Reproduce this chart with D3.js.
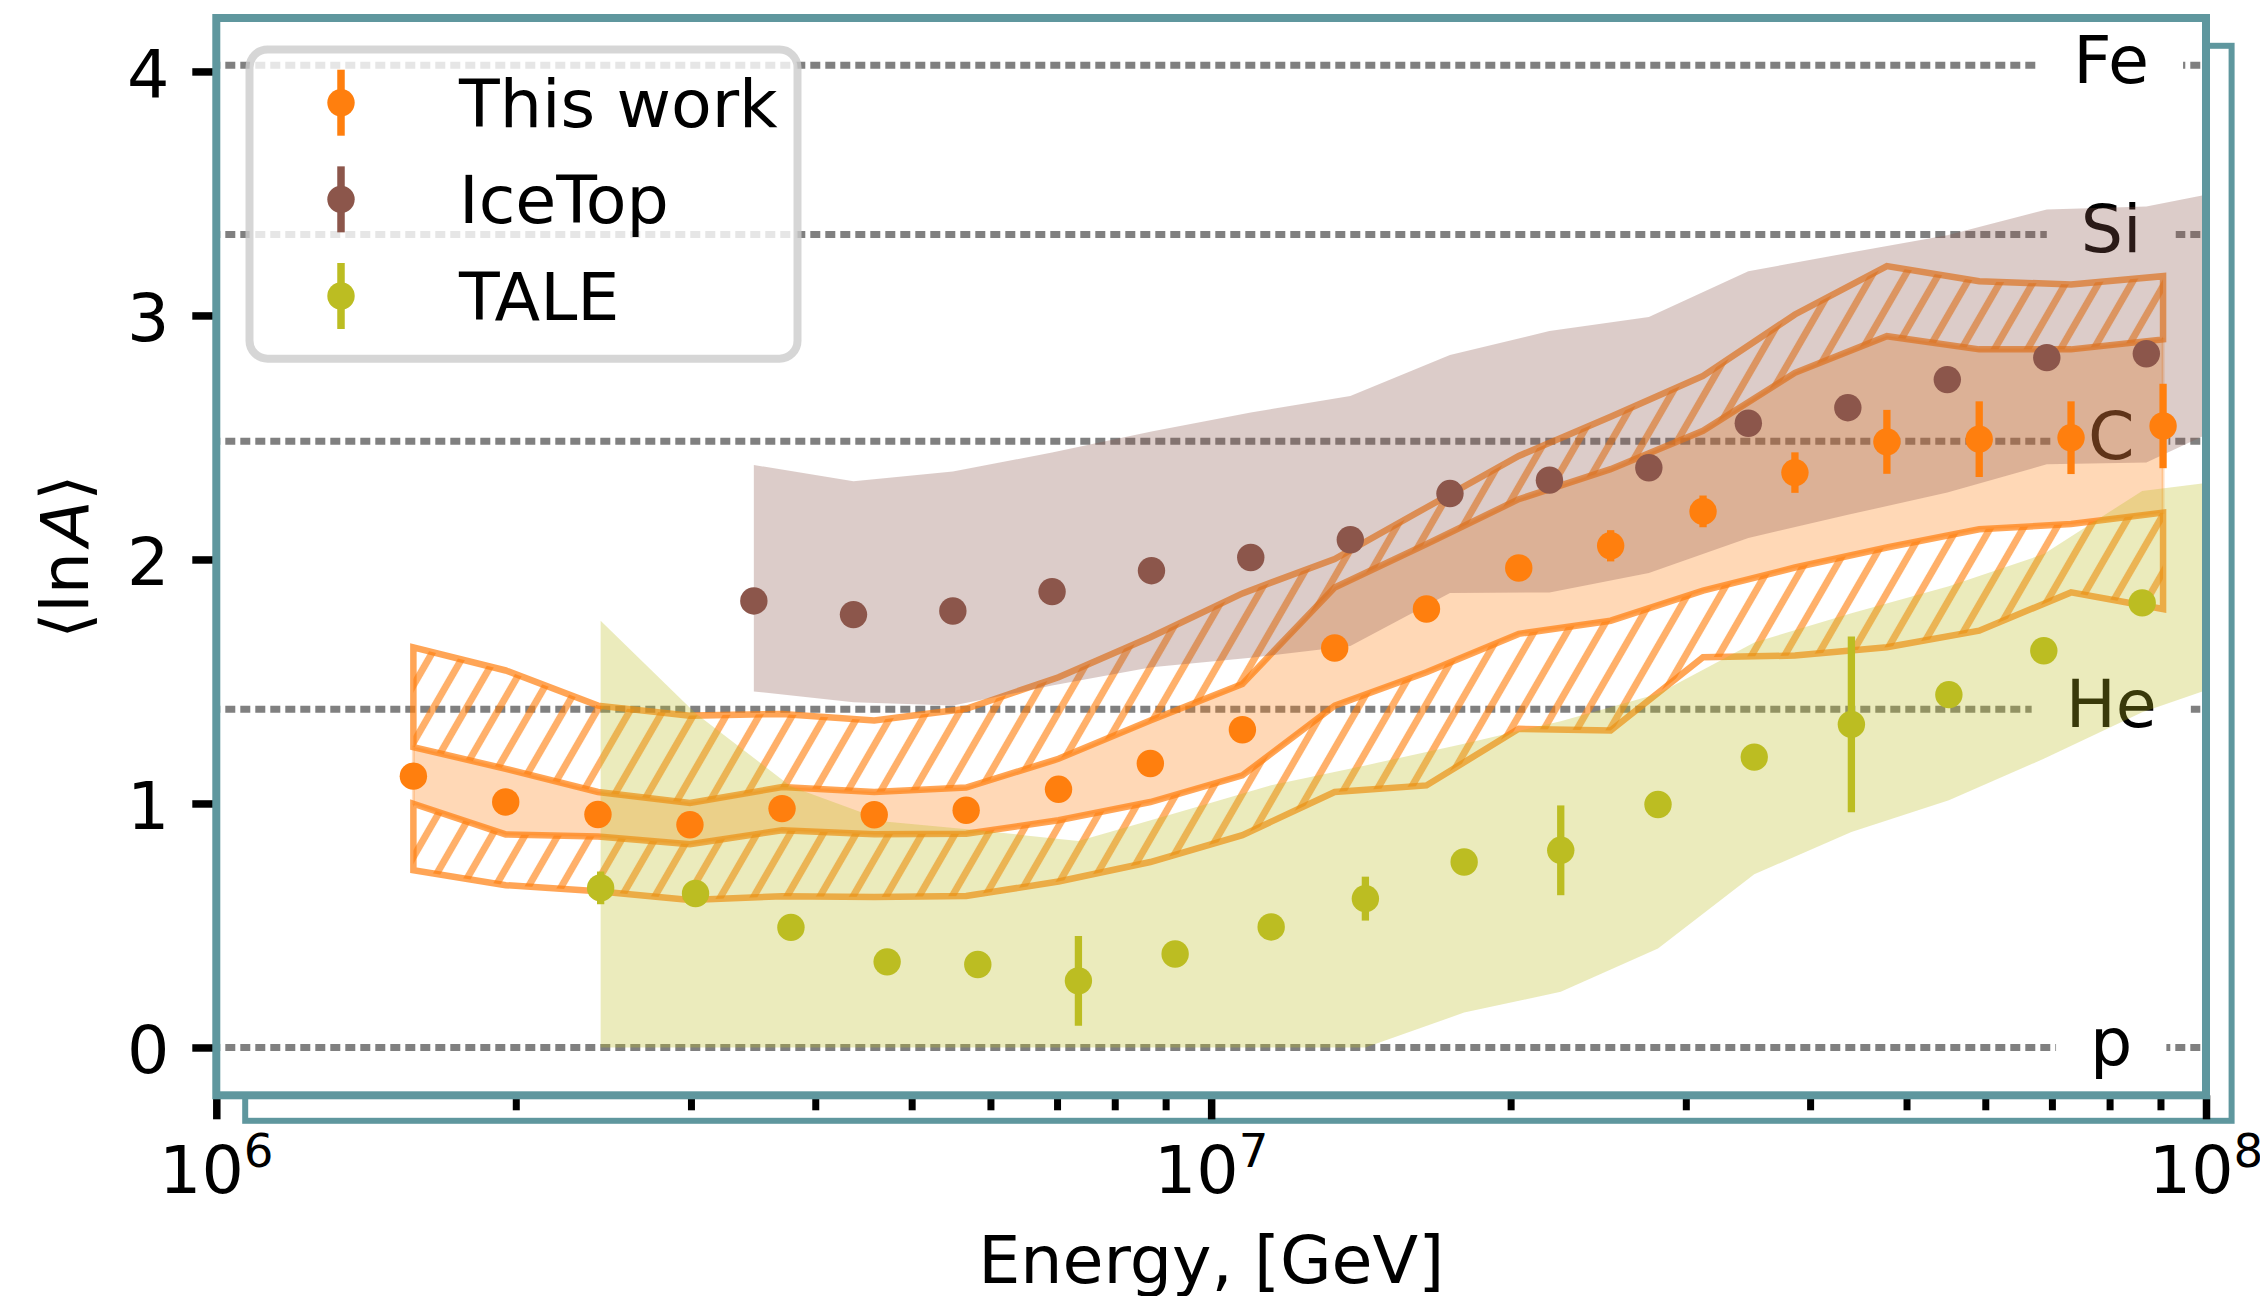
<!DOCTYPE html>
<html>
<head>
<meta charset="utf-8">
<script src="https://cdn.jsdelivr.net/npm/d3@7"></script>
<style>
  html, body { margin: 0; padding: 0; background: #ffffff; }
  svg { display: block; font-family: "DejaVu Sans", sans-serif; }
</style>
</head>
<body>
<svg id="chart" width="2260" height="1296"></svg>
<script>
// Mean logarithmic mass <lnA> versus primary energy

// ---- This work ----
const thisWorkE = [1.578e6, 1.954e6, 2.419e6, 2.993e6, 3.704e6, 4.585e6, 5.672e6, 7.024e6, 8.687e6, 1.075e7,
                   1.331e7, 1.646e7, 2.038e7, 2.521e7, 3.122e7, 3.862e7, 4.778e7, 5.916e7, 7.317e7, 9.054e7];
const thisWorkLnA = [1.112, 1.006, 0.955, 0.913, 0.979, 0.954, 0.972, 1.058, 1.164, 1.302,
                     1.637, 1.797, 1.965, 2.056, 2.197, 2.356, 2.482, 2.493, 2.499, 2.547];
const thisWorkErr = [0.02, 0.02, 0.02, 0.02, 0.02, 0.02, 0.02, 0.02, 0.03, 0.03,
                     0.03, 0.04, 0.045, 0.064, 0.065, 0.083, 0.131, 0.155, 0.149, 0.173];
// systematic envelopes
const thisWorkUpperOuter = [1.640, 1.545, 1.401, 1.360, 1.367, 1.340, 1.388, 1.517, 1.681, 1.861,
                            2.002, 2.213, 2.424, 2.585, 2.752, 3.004, 3.202, 3.140, 3.127, 3.161];
const thisWorkUpperInner = [1.231, 1.142, 1.047, 1.002, 1.067, 1.047, 1.065, 1.183, 1.340, 1.490,
                            1.885, 2.063, 2.247, 2.370, 2.527, 2.765, 2.915, 2.861, 2.861, 2.902];
const thisWorkLowerInner = [0.999, 0.873, 0.865, 0.833, 0.890, 0.874, 0.876, 0.931, 1.006, 1.115,
                            1.401, 1.538, 1.695, 1.749, 1.872, 1.967, 2.049, 2.124, 2.145, 2.192];
const thisWorkLowerOuter = [0.726, 0.665, 0.640, 0.604, 0.620, 0.617, 0.621, 0.680, 0.760, 0.870,
                            1.047, 1.074, 1.306, 1.299, 1.599, 1.606, 1.640, 1.708, 1.865, 1.797];

// ---- IceTop ----
const iceTopE = [3.47e6, 4.37e6, 5.50e6, 6.92e6, 8.71e6, 1.096e7, 1.380e7, 1.738e7, 2.188e7, 2.754e7,
                 3.467e7, 4.365e7, 5.495e7, 6.918e7, 8.710e7];
const iceTopLnA = [1.830, 1.774, 1.789, 1.868, 1.954, 2.008, 2.081, 2.270, 2.325, 2.376,
                   2.558, 2.622, 2.737, 2.827, 2.843];
const iceTopErr = [0.02, 0.02, 0.02, 0.02, 0.02, 0.02, 0.02, 0.02, 0.02, 0.02,
                   0.03, 0.03, 0.03, 0.03, 0.03];
const iceTopBandE = [3.47e6, 4.37e6, 5.50e6, 6.92e6, 8.71e6, 1.096e7, 1.380e7, 1.738e7, 2.188e7, 2.754e7,
                     3.467e7, 4.365e7, 5.495e7, 6.918e7, 8.710e7, 1.096e8];
const iceTopBandHi = [2.387, 2.321, 2.360, 2.438, 2.524, 2.602, 2.670, 2.838, 2.936, 2.994,
                      3.181, 3.256, 3.329, 3.434, 3.447, 3.527];
const iceTopBandLo = [1.459, 1.415, 1.401, 1.483, 1.558, 1.597, 1.645, 1.863, 1.865, 1.944,
                      2.088, 2.183, 2.274, 2.390, 2.397, 2.587];

// ---- TALE ----
const taleE = [2.434e6, 3.032e6, 3.781e6, 4.724e6, 5.827e6, 7.355e6, 9.200e6, 1.149e7, 1.429e7,
               1.796e7, 2.246e7, 2.813e7, 3.515e7, 4.401e7, 5.515e7, 6.870e7, 8.627e7];
const taleLnA = [0.654, 0.631, 0.492, 0.351, 0.340, 0.273, 0.383, 0.494, 0.610,
                 0.760, 0.808, 0.996, 1.190, 1.324, 1.446, 1.626, 1.822];
const taleErr = [0.067, 0.03, 0.03, 0.03, 0.03, 0.184, 0.03, 0.03, 0.09,
                 0.03, 0.184, 0.03, 0.03, 0.36, 0.03, 0.03, 0.03];
const taleBandE = [2.434e6, 3.032e6, 3.781e6, 4.724e6, 5.827e6, 7.355e6, 9.200e6, 1.149e7, 1.429e7,
                   1.796e7, 2.246e7, 2.813e7, 3.515e7, 4.401e7, 5.515e7, 6.870e7, 8.627e7, 1.078e8];
const taleBandHi = [1.749, 1.370, 1.070, 0.925, 0.890, 0.846, 0.960, 1.075, 1.156,
                    1.245, 1.337, 1.450, 1.660, 1.780, 1.890, 2.022, 2.281, 2.330];
const taleBandLo = [0, 0, 0, 0, 0, 0, 0, 0, 0,
                    0.143, 0.228, 0.406, 0.710, 0.883, 1.013, 1.183, 1.374, 1.510];

// ---- reference nuclei ----
const massLabels = ["p", "He", "C", "Si", "Fe"];
const massNumbers = [1, 4, 12, 28, 56];

// ---- axes ----
const yTicks = [0, 1, 2, 3, 4];
const xMajorTicks = [1e6, 1e7, 1e8];
const xMajorExponents = ["6", "7", "8"];
const xMinorTicks = [2e6, 3e6, 4e6, 5e6, 6e6, 7e6, 8e6, 9e6, 2e7, 3e7, 4e7, 5e7, 6e7, 7e7, 8e7, 9e7];
const legendLabels = ["This work", "IceTop", "TALE"];

// ================= drawing =================
const FONT = '"DejaVu Sans", sans-serif';
const FS = 66.67;
const TEAL = "#5f979e";
const ORANGE = "#ff7f0e", BROWN = "#8c564b", OLIVE = "#bcbd22";
const P = { left: 216.3, right: 2206, top: 18, bottom: 1095.3 };

const svg = d3.select("#chart");
const x = d3.scaleLog().domain([1e6, 1e8]).range([P.left, P.right]);
const y = d3.scaleLinear().domain([-0.196, 4.219]).range([P.bottom, P.top]);

const defs = svg.append("defs");
defs.append("clipPath").attr("id", "plotClip")
  .append("rect").attr("x", P.left).attr("y", P.top)
  .attr("width", P.right - P.left).attr("height", P.bottom - P.top);

const hatch = defs.append("pattern").attr("id", "hatch")
  .attr("patternUnits", "userSpaceOnUse")
  .attr("width", 28.6).attr("height", 400)
  .attr("patternTransform", "rotate(30)");
hatch.append("line").attr("x1", 14.3).attr("x2", 14.3).attr("y1", 0).attr("y2", 400)
  .attr("stroke", ORANGE).attr("stroke-width", 7).attr("stroke-opacity", 0.62);

// offset frame behind the axes
svg.append("rect")
  .attr("x", 245.2).attr("y", 45.8)
  .attr("width", 2231.6 - 245.2).attr("height", 1120.8 - 45.8)
  .attr("fill", "none").attr("stroke", TEAL).attr("stroke-width", 6);

// axes background
svg.append("rect")
  .attr("x", P.left).attr("y", P.top)
  .attr("width", P.right - P.left).attr("height", P.bottom - P.top)
  .attr("fill", "#ffffff");

// ---- ticks ----
const gy = svg.append("g").attr("transform", `translate(${P.left},0)`)
  .call(d3.axisLeft(y).tickValues(yTicks).tickSize(24).tickPadding(23).tickFormat(d3.format("d")));
gy.attr("font-size", FS).attr("font-family", FONT);
gy.select(".domain").remove();
gy.selectAll(".tick line").attr("stroke", "#000").attr("stroke-width", 7.5);
gy.selectAll(".tick text").attr("fill", "#000").attr("dy", "0.38em");

const gxMinor = svg.append("g").attr("transform", `translate(0,${P.bottom})`)
  .call(d3.axisBottom(x).tickValues(xMinorTicks).tickSize(15).tickFormat(""));
gxMinor.select(".domain").remove();
gxMinor.selectAll(".tick line").attr("stroke", "#000").attr("stroke-width", 7);

const gxMajor = svg.append("g").attr("transform", `translate(0,${P.bottom})`)
  .call(d3.axisBottom(x).tickValues(xMajorTicks).tickSize(24).tickFormat(""));
gxMajor.select(".domain").remove();
gxMajor.selectAll(".tick line").attr("stroke", "#000").attr("stroke-width", 7.5);

// power-of-ten labels
xMajorTicks.forEach((v, i) => {
  const t = svg.append("text")
    .attr("x", x(v)).attr("y", 1193.3)
    .attr("text-anchor", "middle")
    .attr("font-family", FONT).attr("font-size", FS).attr("fill", "#000");
  t.append("tspan").text("10");
  t.append("tspan").attr("dy", -26.6).attr("font-size", 46.7).text(xMajorExponents[i]);
});

// ---- reference lines for nuclei ----
const gRef = svg.append("g").attr("clip-path", "url(#plotClip)");
massNumbers.forEach(A => {
  const yy = y(Math.log(A));
  gRef.append("line")
    .attr("x1", P.left).attr("x2", P.right).attr("y1", yy).attr("y2", yy)
    .attr("stroke", "#808080").attr("stroke-width", 7)
    .attr("stroke-dasharray", "10 5").attr("stroke-dashoffset", 6);
});
const labelE = 8.03e7;
massNumbers.forEach((A, i) => {
  const yy = y(Math.log(A));
  const box = gRef.append("rect").attr("fill", "#ffffff");
  const t = gRef.append("text")
    .attr("x", x(labelE)).attr("y", yy + 17.5)
    .attr("text-anchor", "middle")
    .attr("font-family", FONT).attr("font-size", FS).attr("fill", "#000")
    .text(massLabels[i]);
  const w = t.node().getComputedTextLength() + 68;
  box.attr("x", x(labelE) - w / 2).attr("width", w)
     .attr("y", yy - 30).attr("height", 60);
});

// ---- bands ----
const gBands = svg.append("g").attr("clip-path", "url(#plotClip)");
const idx20 = d3.range(thisWorkE.length);

const areaTW = (lo, hi) => d3.area()
  .x(i => x(thisWorkE[i]))
  .y0(i => y(lo[i]))
  .y1(i => y(hi[i]))(idx20);

// statistical band
gBands.append("path").attr("d", areaTW(thisWorkLowerInner, thisWorkUpperInner))
  .attr("fill", ORANGE).attr("fill-opacity", 0.3)
  .attr("stroke", ORANGE).attr("stroke-opacity", 0.25).attr("stroke-width", 3);

// systematic envelopes (hatched)
[[thisWorkUpperInner, thisWorkUpperOuter], [thisWorkLowerOuter, thisWorkLowerInner]].forEach(([lo, hi]) => {
  gBands.append("path").attr("d", areaTW(lo, hi))
    .attr("fill", "url(#hatch)")
    .attr("stroke", ORANGE).attr("stroke-opacity", 0.7).attr("stroke-width", 6.5)
    .attr("stroke-linejoin", "miter");
});

// IceTop band
gBands.append("path")
  .attr("d", d3.area()
    .x(i => x(iceTopBandE[i])).y0(i => y(iceTopBandLo[i])).y1(i => y(iceTopBandHi[i]))
    (d3.range(iceTopBandE.length)))
  .attr("fill", BROWN).attr("fill-opacity", 0.3);

// TALE band
gBands.append("path")
  .attr("d", d3.area()
    .x(i => x(taleBandE[i])).y0(i => y(taleBandLo[i])).y1(i => y(taleBandHi[i]))
    (d3.range(taleBandE.length)))
  .attr("fill", OLIVE).attr("fill-opacity", 0.3);

// ---- points with error bars ----
const R = 13.7;
function drawSeries(E, V, err, color) {
  const g = svg.append("g").attr("clip-path", "url(#plotClip)");
  E.forEach((e, i) => {
    g.append("line")
      .attr("x1", x(e)).attr("x2", x(e))
      .attr("y1", y(V[i] - err[i])).attr("y2", y(V[i] + err[i]))
      .attr("stroke", color).attr("stroke-width", 7.3);
    g.append("circle").attr("cx", x(e)).attr("cy", y(V[i])).attr("r", R).attr("fill", color);
  });
}
drawSeries(thisWorkE, thisWorkLnA, thisWorkErr, ORANGE);
drawSeries(iceTopE, iceTopLnA, iceTopErr, BROWN);
drawSeries(taleE, taleLnA, taleErr, OLIVE);

// ---- axes frame ----
svg.append("rect")
  .attr("x", P.left).attr("y", P.top)
  .attr("width", P.right - P.left).attr("height", P.bottom - P.top)
  .attr("fill", "none").attr("stroke", TEAL).attr("stroke-width", 8);

// ---- axis titles ----
svg.append("text")
  .attr("x", (P.left + P.right) / 2).attr("y", 1283)
  .attr("text-anchor", "middle")
  .attr("font-family", FONT).attr("font-size", FS).attr("fill", "#000")
  .text("Energy, [GeV]");

const yl = svg.append("text")
  .attr("transform", `translate(88.3,${(P.top + P.bottom) / 2}) rotate(-90)`)
  .attr("text-anchor", "middle")
  .attr("font-family", FONT).attr("font-size", FS).attr("fill", "#000");
yl.append("tspan").text("\u27E8ln");
yl.append("tspan").attr("dx", 6).attr("font-style", "italic").text("A");
yl.append("tspan").text("\u27E9");

// ---- legend ----
const leg = svg.append("g");
leg.append("rect")
  .attr("x", 249.5).attr("y", 49.5).attr("width", 548).attr("height", 309.2).attr("rx", 18)
  .attr("fill", "#ffffff").attr("fill-opacity", 0.8)
  .attr("stroke", "#cccccc").attr("stroke-opacity", 0.8).attr("stroke-width", 8);
const legColors = [ORANGE, BROWN, OLIVE];
legendLabels.forEach((lab, i) => {
  const cy = 102.7 + i * 96.65;
  leg.append("line").attr("x1", 341).attr("x2", 341).attr("y1", cy - 33).attr("y2", cy + 33)
    .attr("stroke", legColors[i]).attr("stroke-width", 7.5);
  leg.append("circle").attr("cx", 341).attr("cy", cy).attr("r", R).attr("fill", legColors[i]);
  leg.append("text").attr("x", 459).attr("y", cy + 24)
    .attr("font-family", FONT).attr("font-size", FS).attr("fill", "#000")
    .text(lab);
});
</script>
</body>
</html>
